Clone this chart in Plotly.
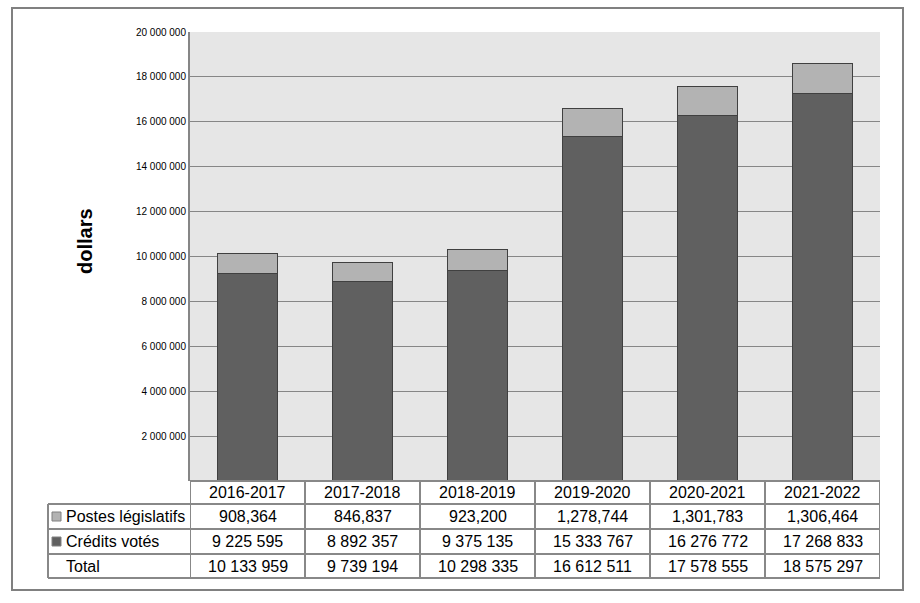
import plotly.graph_objects as go

categories = ["2016-2017", "2017-2018", "2018-2019", "2019-2020", "2020-2021", "2021-2022"]
credits_votes = [9225595, 8892357, 9375135, 15333767, 16276772, 17268833]
postes_legislatifs = [908364, 846837, 923200, 1278744, 1301783, 1306464]
totals = [10133959, 9739194, 10298335, 16612511, 17578555, 18575297]
y_ticks = [2000000, 4000000, 6000000, 8000000, 10000000, 12000000, 14000000, 16000000, 18000000, 20000000]

DARK = "#606060"
LIGHT = "#b3b3b3"
EDGE = "#404040"
GRID = "#868686"
FONT = "Liberation Sans, Arial, sans-serif"

W, H = 920, 603
L, R, T, B = 190, 880, 32, 481


def px(x):
    return (x - L) / (R - L)


def py(y):
    return (B - y) / (B - T)


def sp(v):
    return f"{v:,}".replace(",", " ")


fig = go.Figure()
fig.add_trace(go.Bar(x=categories, y=credits_votes, name="Crédits votés",
                     marker=dict(color=DARK, line=dict(color=EDGE, width=1)), width=0.52))
fig.add_trace(go.Bar(x=categories, y=postes_legislatifs, name="Postes législatifs",
                     marker=dict(color=LIGHT, line=dict(color=EDGE, width=1)), width=0.52))

shapes = []
annotations = []
# outer border
shapes.append(dict(type="rect", xref="paper", yref="paper", x0=px(12), x1=px(903), y0=py(8), y1=py(590),
                   line=dict(color="#808080", width=2), layer="below"))

tline = dict(color="#888888", width=2)
# table horizontal lines
shapes.append(dict(type="line", xref="paper", yref="paper", x0=px(190), x1=px(880), y0=py(481), y1=py(481), line=tline))
for yy in [504, 529, 554, 578]:
    shapes.append(dict(type="line", xref="paper", yref="paper", x0=px(48), x1=px(880), y0=py(yy), y1=py(yy), line=tline))
# vertical lines
shapes.append(dict(type="line", xref="paper", yref="paper", x0=px(48), x1=px(48), y0=py(504), y1=py(578), line=tline))
for i in range(len(categories) + 1):
    shapes.append(dict(type="line", xref="x", yref="paper", x0=i - 0.5, x1=i - 0.5, y0=py(481), y1=py(578), line=tline))

row_y = [492.5, 516.5, 541.5, 566]
tfont = dict(family=FONT, size=16, color="#000000")
for i, c in enumerate(categories):
    vals = [c, f"{postes_legislatifs[i]:,}", sp(credits_votes[i]), sp(totals[i])]
    for yy, txt in zip(row_y, vals):
        annotations.append(dict(x=i, y=py(yy), xref="x", yref="paper", text=txt, showarrow=False,
                                xanchor="center", yanchor="middle", font=tfont))

# legend labels
for label, yy, col in [("Postes législatifs", row_y[1], LIGHT), ("Crédits votés", row_y[2], DARK), ("Total", row_y[3], None)]:
    annotations.append(dict(x=px(64), y=py(yy), xref="paper", yref="paper", text=label, showarrow=False,
                            xanchor="left", yanchor="middle", font=tfont))
    if col:
        shapes.append(dict(type="rect", xref="paper", yref="paper", x0=px(52), x1=px(61), y0=py(yy - 4.5), y1=py(yy + 4.5),
                           fillcolor=col, line=dict(color="#808080", width=1)))

annotations.append(dict(x=px(85), y=py(241), xref="paper", yref="paper", text="<b>dollars</b>", textangle=-90,
                        showarrow=False, xanchor="center", yanchor="middle",
                        font=dict(family=FONT, size=20, color="#000000")))

fig.update_layout(
    width=W, height=H,
    margin=dict(l=L, r=W - R, t=T, b=H - B),
    paper_bgcolor="#ffffff", plot_bgcolor="#e6e6e6",
    barmode="stack", showlegend=False,
    shapes=shapes, annotations=annotations,
    font=dict(family=FONT, color="#000000"),
    xaxis=dict(range=[-0.5, 5.5], showticklabels=False, showgrid=False, zeroline=False, showline=False, ticks=""),
    yaxis=dict(range=[0, 20000000], tickvals=y_ticks, ticktext=[sp(v) for v in y_ticks],
               tickfont=dict(family=FONT, size=10, color="#000000"), showgrid=True, gridcolor=GRID, gridwidth=1,
               zeroline=False, showline=True, linecolor=GRID, linewidth=2, ticks="", ticklen=0),
)

fig.write_html("out.html", config={"displayModeBar": False},
               post_script="document.body.style.margin='0';")
